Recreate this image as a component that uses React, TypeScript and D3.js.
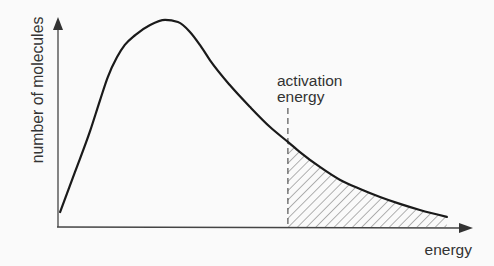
import React from "react";
import * as d3 from "d3";

const energy = [0.5, 4.1, 7.7, 10.1, 12.0, 14.2, 16.1, 18.6, 22.2, 25.8, 28.9, 31.8, 34.2, 36.6, 41.4, 46.3, 51.1, 55.4, 58.3, 63.1, 68.0, 72.8, 77.6, 82.4, 87.2, 93.7];
const molecules = [7.1, 26.2, 45.5, 60.2, 71.4, 80.8, 86.7, 91.4, 96.2, 98.6, 97.6, 92.9, 86.7, 79.5, 67.6, 57.1, 47.6, 40.5, 35.7, 28.6, 22.4, 18.1, 14.3, 11.0, 8.1, 4.8];
const activationEnergy = 55.4;
const labels = { x: "energy", y: "number of molecules", act1: "activation", act2: "energy" };

export default function App() {
  const W = 494, H = 266;
  const x = d3.scaleLinear().domain([0, 100]).range([58, 473]);
  const y = d3.scaleLinear().domain([0, 100]).range([227, 17]);
  const pts = energy.map((e, i) => [e, molecules[i]] as [number, number]);
  const line = d3.line<[number, number]>().x(d => x(d[0])).y(d => y(d[1])).curve(d3.curveMonotoneX);
  const area = d3.area<[number, number]>().x(d => x(d[0])).y0(y(0)).y1(d => y(d[1])).curve(d3.curveMonotoneX);
  const xa = x(activationEnergy);
  const lastX = x(energy[energy.length - 1]);
  const font = "'Liberation Sans', Arial, sans-serif";
  const txt = "#333";
  return (
    <svg width={W} height={H} style={{ position: "absolute", left: 0, top: 0, background: "#fafafa" }}>
      <defs>
        <pattern id="hatch" width="6.5" height="6.5" patternUnits="userSpaceOnUse" patternTransform="rotate(45)">
          <line x1="0" y1="0" x2="0" y2="6.5" stroke="#444" strokeWidth="0.8" />
        </pattern>
        <clipPath id="clipAct">
          <rect x={xa} y={0} width={lastX - xa} height={H} />
        </clipPath>
      </defs>
      <path d={area(pts) || ""} fill="url(#hatch)" clipPath="url(#clipAct)" />
      {/* axes */}
      <line x1={x(0)} y1={y(0)} x2={x(0)} y2={y(100) + 12} stroke="#444" strokeWidth={1.3} />
      <path d={`M${x(0)},${y(100)} L${x(0) - 5},${y(100) + 13} L${x(0) + 5},${y(100) + 13} Z`} fill="#333" />
      <line x1={x(0) - 1} y1={y(0)} x2={x(100) - 12} y2={y(0) + 1} stroke="#444" strokeWidth={1.3} />
      <path d={`M${x(100)},${y(0) + 1} L${x(100) - 14},${y(0) - 4} L${x(100) - 14},${y(0) + 6} Z`} fill="#333" />
      {/* dashed activation line */}
      <line x1={xa} y1={108} x2={xa} y2={y(0)} stroke="#333" strokeWidth={1} strokeDasharray="6,4" />
      {/* curve */}
      <path d={line(pts) || ""} fill="none" stroke="#1a1a1a" strokeWidth={2.2} strokeLinecap="round" />
      {/* labels */}
      <text x={277} y={86} fontFamily={font} fontSize={15.5} fill={txt}>{labels.act1}</text>
      <text x={277} y={102} fontFamily={font} fontSize={15.5} fill={txt}>{labels.act2}</text>
      <text x={472} y={255} textAnchor="end" fontFamily={font} fontSize={15.5} fill={txt}>{labels.x}</text>
      <text transform={`translate(43,90) rotate(-90)`} textAnchor="middle" fontFamily={font} fontSize={15.8} fill={txt}>{labels.y}</text>
    </svg>
  );
}
